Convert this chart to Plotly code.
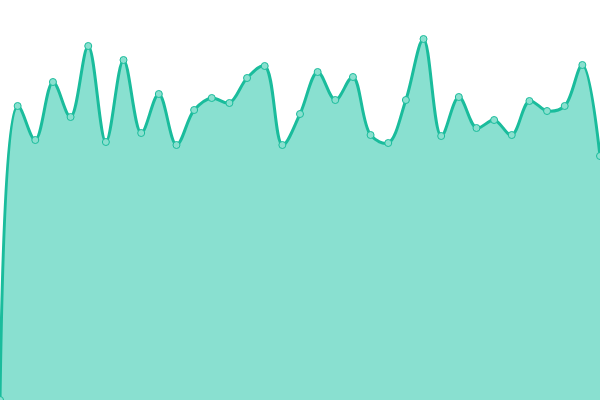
import plotly.graph_objects as go

idx = list(range(35))
values = [0, 294, 260, 318, 283, 354, 258, 340, 267, 306, 255, 290, 302, 297, 322,
          334, 255, 286, 328, 300, 323, 265, 257, 300, 361, 264, 303, 272, 280, 265,
          299, 289, 294, 335, 244]

line_color = "#1abc9c"
fill_color = "#89e0d0"

fig = go.Figure()
fig.add_trace(go.Scatter(
    x=idx, y=values, mode="lines+markers",
    line=dict(color=line_color, width=3, shape="spline", smoothing=1),
    marker=dict(size=7, color="#8ae0cf", line=dict(color=line_color, width=1)),
    fill="tozeroy", fillcolor=fill_color, hoverinfo="skip", showlegend=False,
))
fig.update_layout(
    width=600, height=400, margin=dict(l=0, r=0, t=0, b=0),
    paper_bgcolor="white", plot_bgcolor="white",
    xaxis=dict(visible=False, range=[0, 34], fixedrange=True),
    yaxis=dict(visible=False, range=[0, 400], fixedrange=True),
)
fig.write_html("out.html", post_script="document.body.style.margin='0';",
               config={"displayModeBar": False})
